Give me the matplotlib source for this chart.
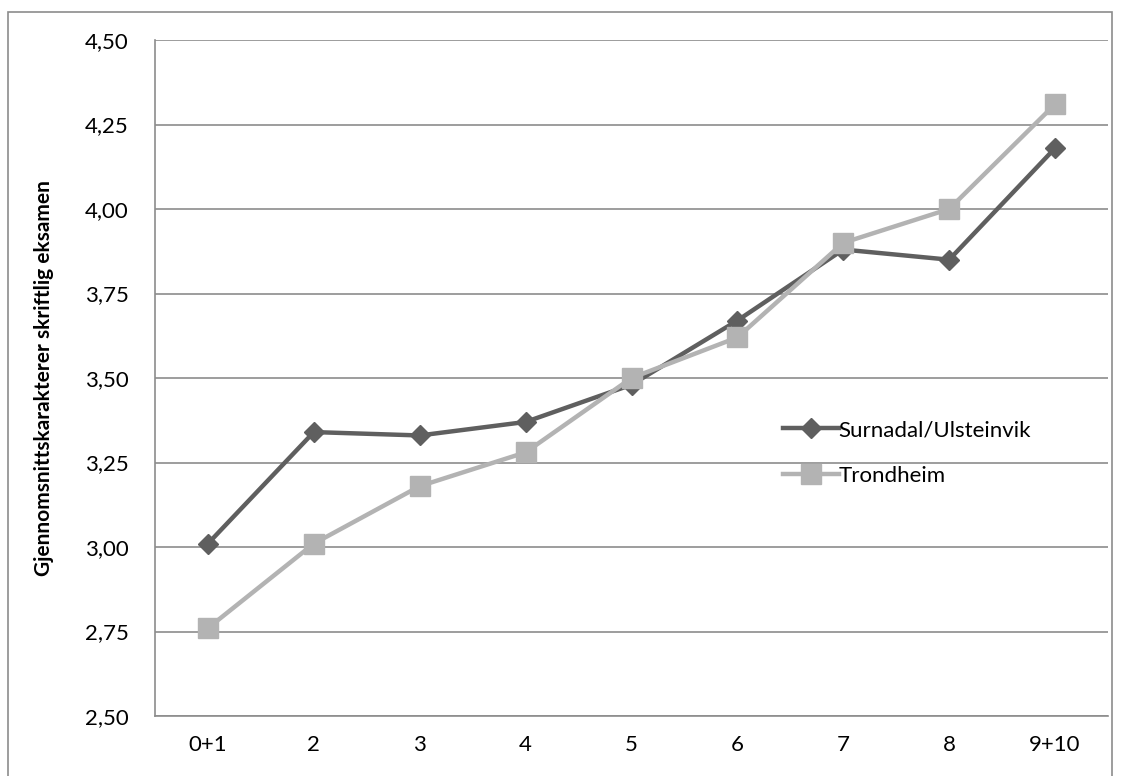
import numpy as np
import matplotlib.pyplot as plt
from matplotlib.patches import Rectangle

categories = ['0+1', '2', '3', '4', '5', '6', '7', '8', '9+10']
surnadal = [3.01, 3.34, 3.33, 3.37, 3.48, 3.67, 3.88, 3.85, 4.18]
trondheim = [2.76, 3.01, 3.18, 3.28, 3.50, 3.62, 3.90, 4.00, 4.31]
yticks = [2.50, 2.75, 3.00, 3.25, 3.50, 3.75, 4.00, 4.25, 4.50]
ytick_labels = ['2,50', '2,75', '3,00', '3,25', '3,50', '3,75', '4,00', '4,25', '4,50']

plt.rcParams['font.family'] = ['Lato', 'DejaVu Sans']

W, H = 1121, 776
fig = plt.figure(figsize=(W/100, H/100), dpi=100)
ax = fig.add_axes([155/W, 1-716/H, (1108-155)/W, (716-40)/H])

# outer chart frame
fig.patches.append(Rectangle((8/W, -0.1), (1112-8)/W, 1.1-12/H,
                             transform=fig.transFigure, fill=False,
                             edgecolor='#8c8c8c', linewidth=1.2))

x = np.arange(len(categories))
ax.plot(x, surnadal, color='#5f5f5f', lw=3.2, marker='D', ms=10.5,
        label='Surnadal/Ulsteinvik', zorder=3)
ax.plot(x, trondheim, color='#b3b3b3', lw=3.2, marker='s', ms=14,
        label='Trondheim', zorder=3)

ax.set_xlim(-0.5, len(categories)-0.5)
ax.set_ylim(2.5, 4.5)
ax.set_yticks(yticks)
ax.set_yticklabels(ytick_labels)
ax.set_xticks(x)
ax.set_xticklabels(categories)
ax.tick_params(length=0, labelsize=16, pad=14)
ax.tick_params(axis='y', pad=19)
ax.grid(axis='y', color='#8c8c8c', lw=1.2)
ax.set_axisbelow(True)
for s in ['top', 'right']:
    ax.spines[s].set_visible(False)
for s in ['left', 'bottom']:
    ax.spines[s].set_color('#8c8c8c')
    ax.spines[s].set_linewidth(1.2)

ax.set_ylabel('Gjennomsnittskarakterer skriftlig eksamen', fontsize=15,
              fontweight='bold', labelpad=22)

ax.legend(loc='upper left', bbox_to_anchor=((763-155)/(1108-155), 1-(400-40)/(716-40)),
          frameon=False, fontsize=16, handlelength=2.5, handletextpad=0.0,
          labelspacing=1.15)

fig.savefig('out.png', dpi=100)
